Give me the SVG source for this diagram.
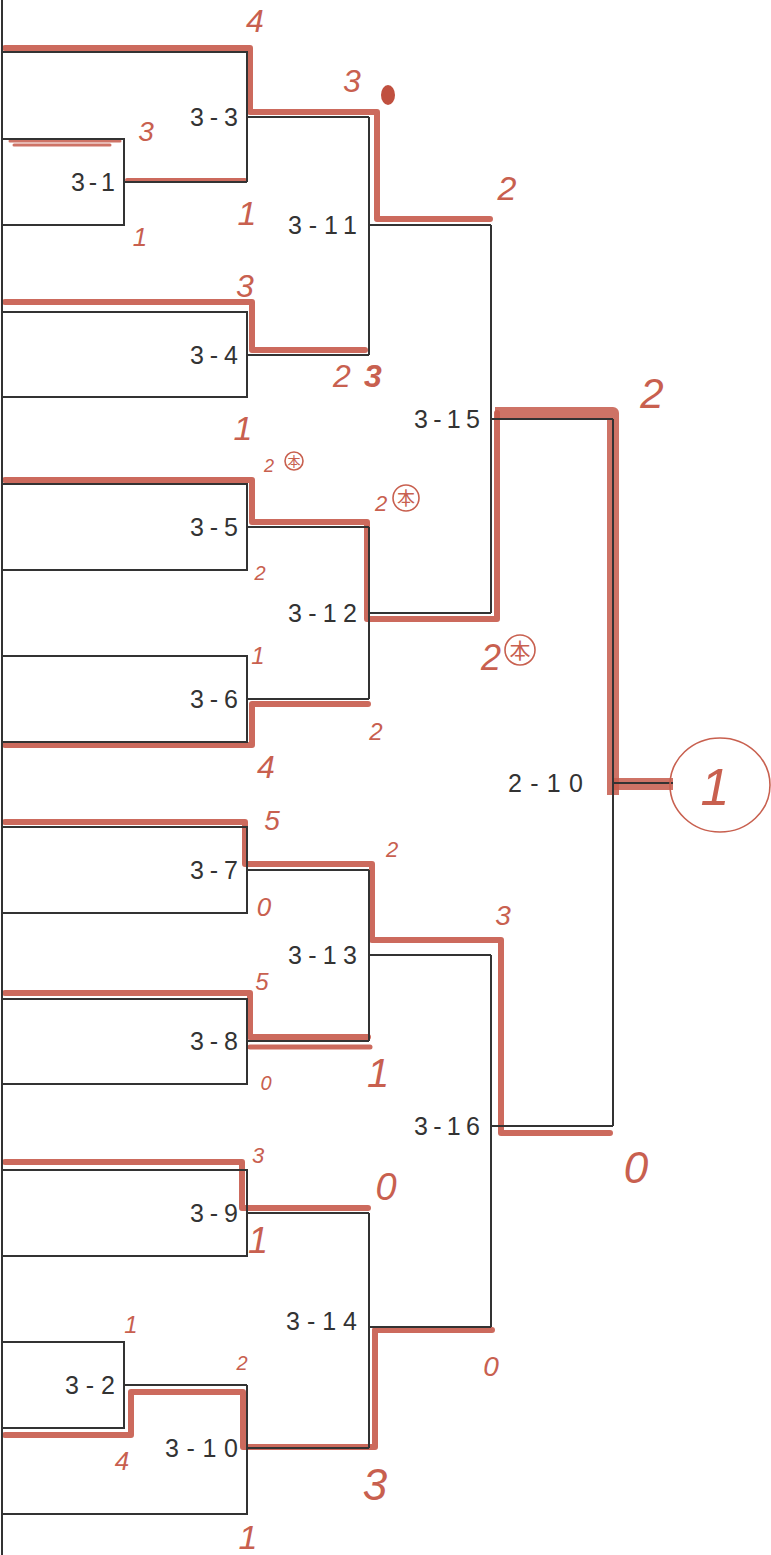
<svg xmlns="http://www.w3.org/2000/svg" width="771" height="1555" viewBox="0 0 771 1555">
<style>
.bk{fill:none;stroke:#333;stroke-width:2}
.rd{fill:none;stroke:#c65a4b;stroke-width:6;stroke-linejoin:round;stroke-linecap:round;opacity:0.9}
.rb{fill:none;stroke:#c65a4b;stroke-width:12;stroke-linejoin:round;opacity:0.85}
.rt{fill:none;stroke:#c65a4b;stroke-width:3;stroke-linecap:round;opacity:0.85}
.lb{font-family:"Liberation Sans",Arial,sans-serif;font-size:25px;fill:#333;text-anchor:end}
.sc{font-family:"Liberation Sans",Arial,sans-serif;font-style:italic;fill:#c8604f;text-anchor:middle}
.hon{font-family:"Noto Sans CJK JP",sans-serif;fill:#c8604f;text-anchor:middle}
.ci{fill:none;stroke:#c8604f;stroke-width:1.6}
</style>
<rect width="771" height="1555" fill="#fff"/>
<g id="highlights">
<path class="rd" d="M5,48 H250 V112 H377 V219 H490"/>
<path class="rt" d="M10,141 H120"/>
<path class="rt" d="M14,145 H110"/>
<path class="rd" style="stroke-width:4" d="M127,180 H245"/>
<path class="rd" d="M5,302 H252 V350 H365"/>
<path class="rd" d="M5,480 H252 V522 H367 V619 H497 V413"/>
<path class="rb" d="M495,413 H613 V795"/>
<path class="rb" d="M613,784 H673"/>
<path class="rd" d="M5,745 H252 V704 H368"/>
<path class="rd" d="M5,822 H245 V864 H372 V940 H501 V1133 H610"/>
<path class="rd" d="M5,993 H250 V1037 H368"/>
<path class="rd" style="stroke-width:5" d="M250,1047 H370"/>
<path class="rd" d="M5,1162 H242 V1208 H368"/>
<path class="rd" d="M5,1435 H131 V1392 H243 V1447 H375 V1330 H492"/>
</g>
<g id="connectors">
<path class="bk" d="M2,0 V1555"/>
<path class="bk" d="M124,182 H247"/>
<path class="bk" d="M247,117 H369"/>
<path class="bk" d="M247,355 H369"/>
<path class="bk" d="M369,225 H491"/>
<path class="bk" d="M247,527 H369"/>
<path class="bk" d="M247,699 H369"/>
<path class="bk" d="M369,613 H491"/>
<path class="bk" d="M491,419 H613"/>
<path class="bk" d="M247,870 H369"/>
<path class="bk" d="M247,1041 H369"/>
<path class="bk" d="M369,955 H491"/>
<path class="bk" d="M247,1213 H369"/>
<path class="bk" d="M124,1385 H247"/>
<path class="bk" d="M247,1448 H369"/>
<path class="bk" d="M369,1327 H491"/>
<path class="bk" d="M491,1126 H613"/>
<path class="bk" d="M613,783 H673"/>
</g>
<g id="n3-1"><path class="bk" d="M2,139 H124 V225 H2"/><text class="lb" x="115" y="191" textLength="44">3-1</text></g>
<g id="n3-3"><path class="bk" d="M2,52 H247 V182"/><text class="lb" x="238" y="126" textLength="48">3-3</text></g>
<g id="n3-4"><path class="bk" d="M2,312 H247 V397 H2"/><text class="lb" x="238" y="364" textLength="48">3-4</text></g>
<g id="n3-11"><path class="bk" d="M369,117 V355"/><text class="lb" x="357" y="234" textLength="69">3-11</text></g>
<g id="n3-5"><path class="bk" d="M2,484 H247 V570 H2"/><text class="lb" x="238" y="536" textLength="48">3-5</text></g>
<g id="n3-6"><path class="bk" d="M2,656 H247 V742 H2"/><text class="lb" x="238" y="708" textLength="48">3-6</text></g>
<g id="n3-12"><path class="bk" d="M369,527 V699"/><text class="lb" x="357" y="622" textLength="69">3-12</text></g>
<g id="n3-15"><path class="bk" d="M491,225 V613"/><text class="lb" x="480" y="428" textLength="66">3-15</text></g>
<g id="n3-7"><path class="bk" d="M2,827 H247 V913 H2"/><text class="lb" x="238" y="879" textLength="48">3-7</text></g>
<g id="n3-8"><path class="bk" d="M2,999 H247 V1084 H2"/><text class="lb" x="238" y="1050" textLength="48">3-8</text></g>
<g id="n3-13"><path class="bk" d="M369,870 V1041"/><text class="lb" x="357" y="964" textLength="69">3-13</text></g>
<g id="n3-9"><path class="bk" d="M2,1170 H247 V1256 H2"/><text class="lb" x="238" y="1222" textLength="48">3-9</text></g>
<g id="n3-2"><path class="bk" d="M2,1342 H124 V1428 H2"/><text class="lb" x="115" y="1394" textLength="50">3-2</text></g>
<g id="n3-10"><path class="bk" d="M247,1385 V1514 H2"/><text class="lb" x="238" y="1457" textLength="73">3-10</text></g>
<g id="n3-14"><path class="bk" d="M369,1213 V1448"/><text class="lb" x="357" y="1330" textLength="71">3-14</text></g>
<g id="n3-16"><path class="bk" d="M491,955 V1327"/><text class="lb" x="480" y="1135" textLength="66">3-16</text></g>
<g id="n2-10"><path class="bk" d="M613,419 V1126"/><text class="lb" x="583" y="792" textLength="75">2-10</text></g>
<g id="scores">
<text class="sc" x="255" y="32" font-size="32">4</text>
<text class="sc" x="352" y="92" font-size="32">3</text>
<ellipse cx="388" cy="95" rx="7" ry="10" fill="#c0503f"/>
<text class="sc" x="146" y="141" font-size="28">3</text>
<text class="sc" x="140" y="246" font-size="26">1</text>
<text class="sc" x="247" y="225" font-size="34">1</text>
<text class="sc" x="507" y="200" font-size="34">2</text>
<text class="sc" x="245" y="297" font-size="32">3</text>
<text class="sc" x="342" y="387" font-size="32">2</text>
<text class="sc" x="373" y="387" font-size="32" font-weight="bold">3</text>
<text class="sc" x="243" y="440" font-size="34">1</text>
<text class="sc" x="269" y="472" font-size="18">2</text>
<circle class="ci" cx="294" cy="461" r="9"/><text class="hon" x="294" y="466" font-size="13">本</text>
<text class="sc" x="260" y="580" font-size="20">2</text>
<text class="sc" x="381" y="511" font-size="22">2</text>
<circle class="ci" cx="406" cy="498" r="13"/><text class="hon" x="406" y="505" font-size="18">本</text>
<text class="sc" x="258" y="664" font-size="24">1</text>
<text class="sc" x="376" y="740" font-size="24">2</text>
<text class="sc" x="266" y="778" font-size="32">4</text>
<text class="sc" x="491" y="670" font-size="36">2</text>
<circle class="ci" cx="520" cy="650" r="15"/><text class="hon" x="520" y="658" font-size="21">本</text>
<text class="sc" x="652" y="408" font-size="42">2</text>
<ellipse class="ci" cx="720" cy="785" rx="50" ry="47"/>
<text class="sc" x="715" y="805" font-size="52">1</text>
<text class="sc" x="272" y="830" font-size="28">5</text>
<text class="sc" x="264" y="916" font-size="26">0</text>
<text class="sc" x="392" y="857" font-size="22">2</text>
<text class="sc" x="503" y="925" font-size="28">3</text>
<text class="sc" x="262" y="990" font-size="24">5</text>
<text class="sc" x="266" y="1090" font-size="20">0</text>
<text class="sc" x="378" y="1087" font-size="40">1</text>
<text class="sc" x="258" y="1163" font-size="22">3</text>
<text class="sc" x="386" y="1200" font-size="38">0</text>
<text class="sc" x="258" y="1253" font-size="36">1</text>
<text class="sc" x="636" y="1183" font-size="44">0</text>
<text class="sc" x="131" y="1333" font-size="24">1</text>
<text class="sc" x="242" y="1370" font-size="20">2</text>
<text class="sc" x="122" y="1470" font-size="26">4</text>
<text class="sc" x="491" y="1376" font-size="28">0</text>
<text class="sc" x="375" y="1500" font-size="44">3</text>
<text class="sc" x="248" y="1549" font-size="34">1</text>
</g>
</svg>
